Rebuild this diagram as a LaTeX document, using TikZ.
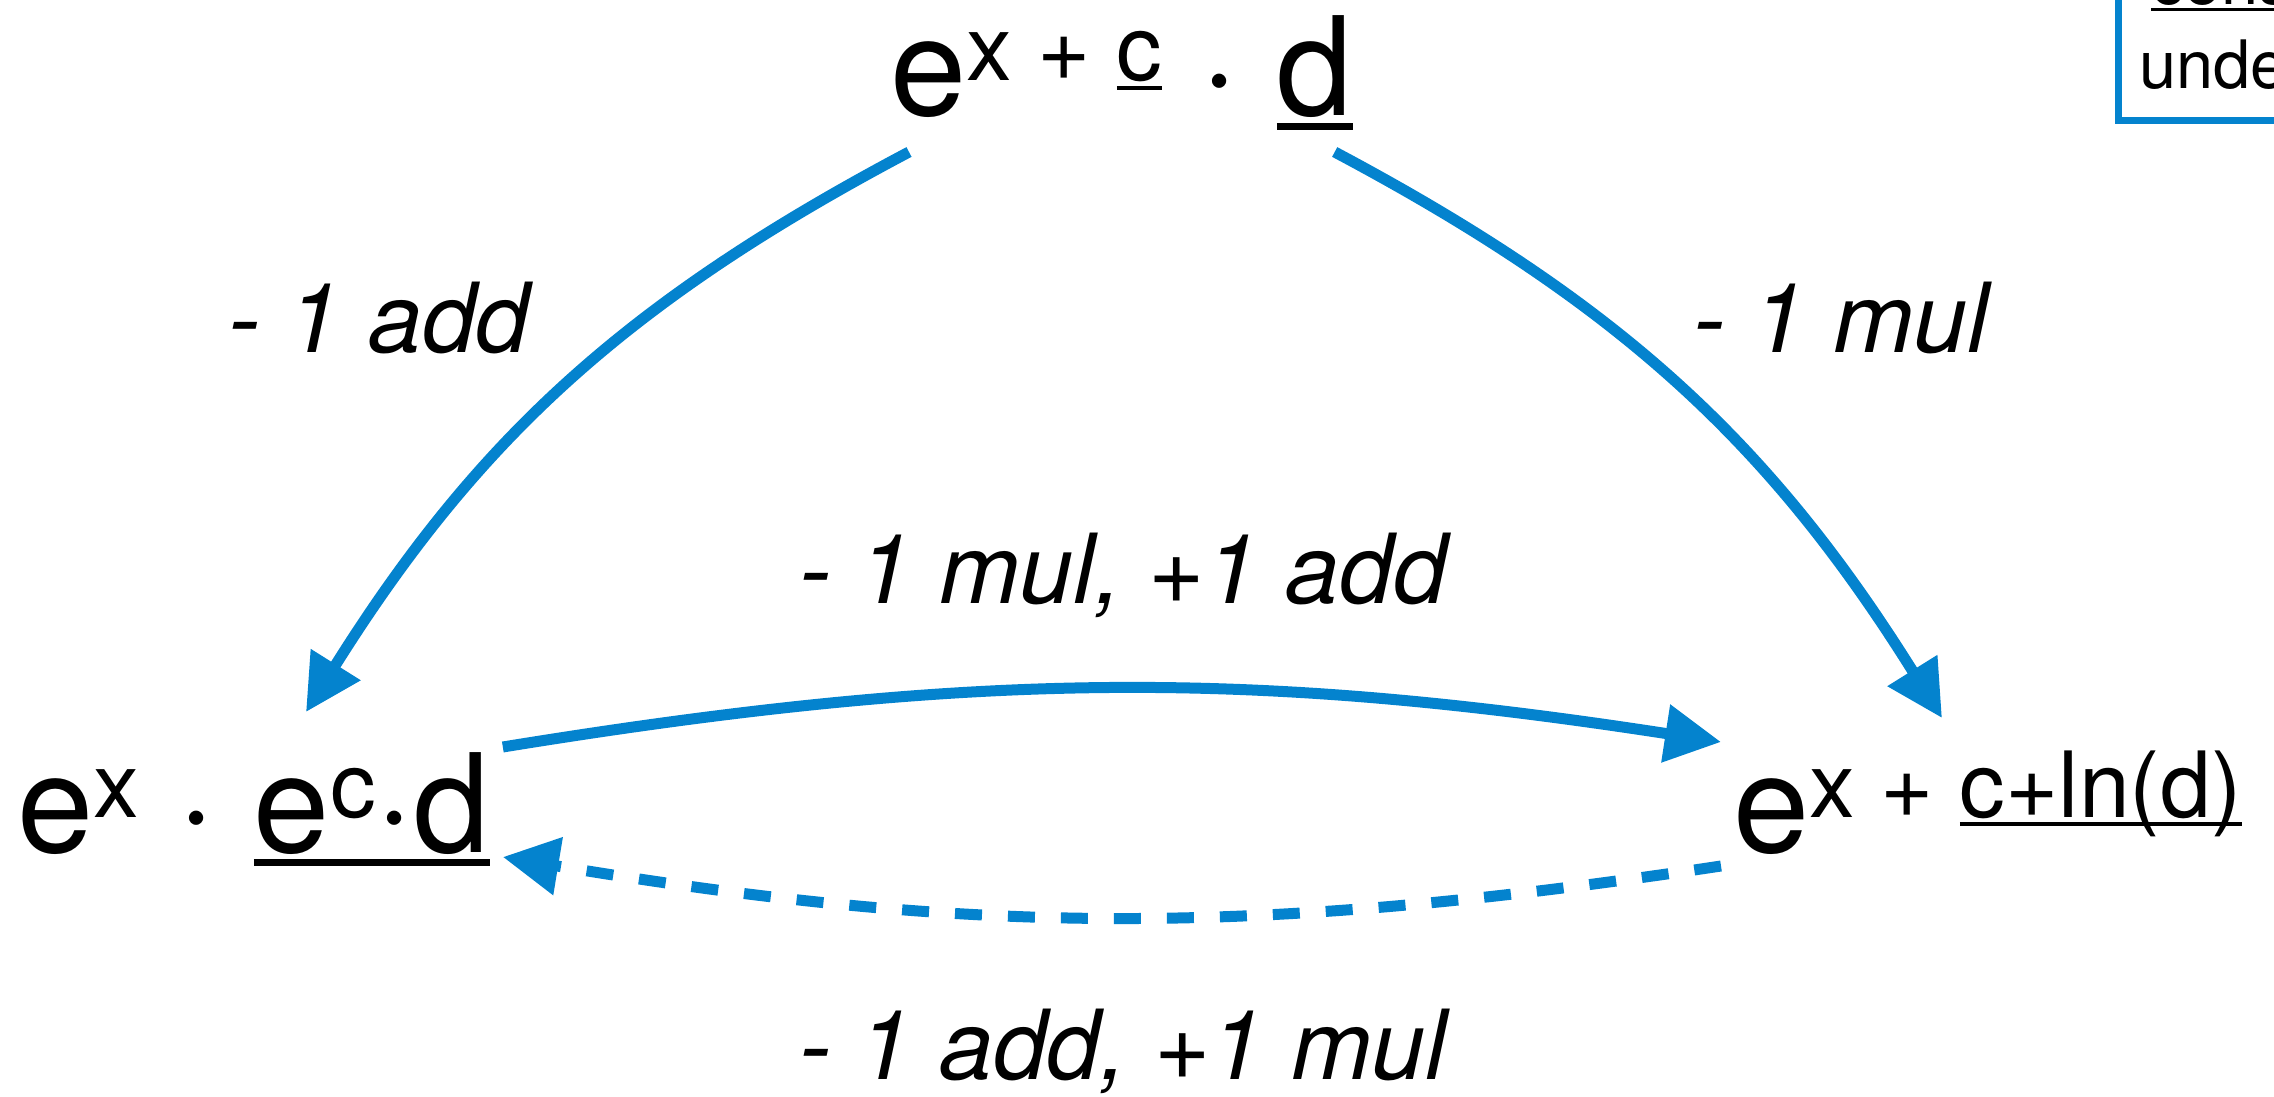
\documentclass[tikz,border=0pt]{standalone}
\usepackage{fontspec}
\setmainfont{TeX Gyre Heros}
\usetikzlibrary{arrows.meta}
\definecolor{cblue}{HTML}{0483CE}
% raised exponent and a tight underline
\newcommand{\expo}[1]{\raisebox{0.35cm}{\fontsize{26}{26}\selectfont #1}}
\newcommand{\ulin}[1]{\setbox0\hbox{#1}\rlap{\rule[-0.1em]{\wd0}{0.05em}}\box0}
\tikzset{
  expr/.style={font=\fontsize{39}{44}\selectfont, inner sep=0pt, anchor=base west},
  lbl/.style={font=\fontsize{27.5}{32}\selectfont\itshape, inner sep=0pt, anchor=base west},
  arrow/.style={-{Triangle[length=0.56cm, width=0.56cm]}, draw=cblue, line width=0.11cm},
  dasharrow/.style={arrow, dash pattern=on 0.27cm off 0.26cm},
}

\begin{document}
\begin{tikzpicture}
  \useasboundingbox (0,0) rectangle (22.74,-10.97);
  \node[expr] (top) at (8.90,-1.16) {e\expo{x + \ulin{c}} · \ulin{d}};
  \node[expr] (left) at (0.17,-8.52) {e\expo{x} · \ulin{e\expo{c}·d}};
  \node[expr] (right) at (17.33,-8.52) {e\expo{x + \ulin{c+ln(d)}}};
  \node[lbl] (l1) at (2.28,-3.52) {- 1 add};
  \node[lbl] (l2) at (16.93,-3.52) {- 1 mul};
  \node[lbl] (l3) at (7.99,-6.03) {- 1 mul, +1 add};
  \node[lbl] (l4) at (7.99,-10.79) {- 1 add, +1 mul};
  \node[draw=cblue, line width=0.07cm, outer sep=0pt, anchor=south west, inner xsep=0.21cm, inner ysep=0.31cm,
        text width=2.6cm, align=left, font=\fontsize{19}{24}\selectfont] (key) at (21.18,-1.21)
        {\hspace{0.12cm}\ulin{cons}\\unde};
  \draw[arrow] ([shift={(0.19,-0.36)}]top.base west) to[bend right=15] ([shift={(2.89,1.40)}]left.base west);
  \draw[arrow] ([shift={(-0.19,-0.36)}]top.base east) to[bend left=15] ([shift={(2.09,1.34)}]right.base west);
  \draw[arrow] ([shift={(0.12,1.05)}]left.base east) to[bend left=9] ([shift={(-0.12,1.10)}]right.base west);
  \draw[dasharrow] ([shift={(-0.12,-0.14)}]right.base west) to[bend left=9] ([shift={(0.12,-0.05)}]left.base east);
\end{tikzpicture}
\end{document}
